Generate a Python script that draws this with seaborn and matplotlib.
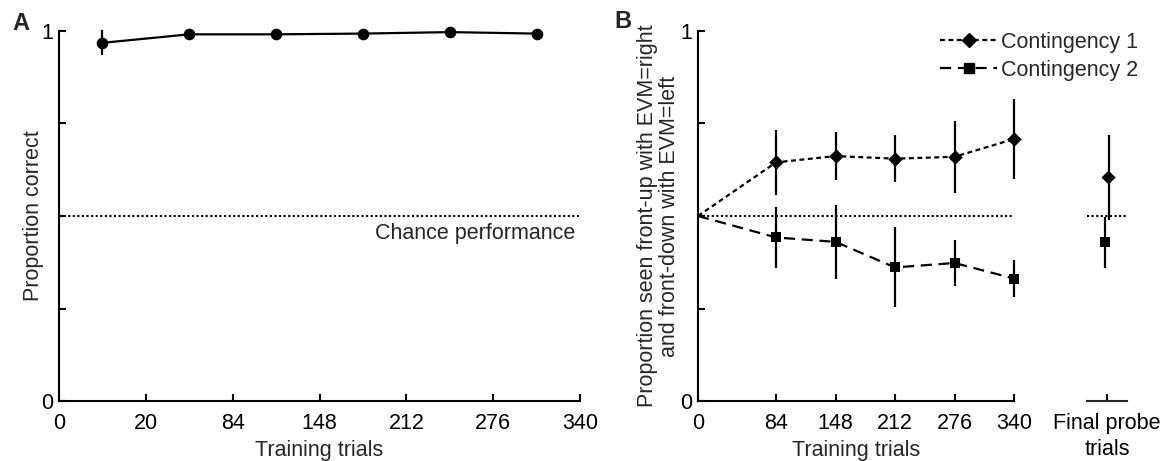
import numpy as np
import pandas as pd
import seaborn as sns
import matplotlib.pyplot as plt
from matplotlib.lines import Line2D

# Panel A: proportion correct per training block
block_edges = [0, 20, 84, 148, 212, 276, 340]
acc_mean = [0.968, 0.991, 0.991, 0.993, 0.997, 0.993]
acc_err = [0.034, 0.004, 0.004, 0.003, 0.002, 0.003]

# Panel B: proportion seen front-up with EVM=right ...
trials = [0, 84, 148, 212, 276, 340]
c1_mean = [0.5, 0.645, 0.662, 0.655, 0.660, 0.708]
c1_err = [0.0, 0.087, 0.065, 0.063, 0.098, 0.108]
c2_mean = [0.5, 0.442, 0.430, 0.361, 0.373, 0.331]
c2_err = [0.0, 0.083, 0.101, 0.108, 0.062, 0.051]

# final probe trials
probe_mean = [0.604, 0.429]
probe_err = [0.115, 0.069]

chance = 0.5

sns.set_style('ticks')
plt.rcParams['font.family'] = ['Liberation Sans', 'DejaVu Sans']
plt.rcParams['font.size'] = 15.5

W, H = 1165, 461
fig = plt.figure(figsize=(W / 100, H / 100), dpi=100)

def px_axes(left, right, top=31, bottom=401):
    return fig.add_axes([left / W, 1 - bottom / H, (right - left) / W, (bottom - top) / H])

axA = px_axes(59, 580)
axB = px_axes(698, 1014)
axF = px_axes(1087, 1127)

lw = 1.6
dot_style = (0, (1, 1.2))
c1_style = (0, (2.2, 1.6))
c2_style = (0, (5, 3))

def style_axis(ax):
    for s in ['top', 'right']:
        ax.spines[s].set_visible(False)
    for s in ['left', 'bottom']:
        ax.spines[s].set_linewidth(1.5)
        ax.spines[s].set_color('k')
    ax.tick_params(direction='in', length=5, width=1.5, colors='k', labelsize=15.5)
    ax.tick_params(axis='x', pad=8.5)
    ax.tick_params(axis='y', pad=4)
    ax.set_ylim(0, 1)
    ax.set_yticks([0, 0.25, 0.5, 0.75, 1])
    ax.set_yticklabels(['0', '', '', '', '1'])

def unclip(ax):
    for art in ax.collections + ax.lines:
        art.set_clip_on(False)

# ---- Panel A ----
style_axis(axA)
xA = np.arange(len(acc_mean)) + 0.5
dfA = pd.DataFrame({'x': xA, 'y': acc_mean})
axA.axhline(chance, xmin=0, xmax=1, color='k', lw=1.5, ls=dot_style, zorder=1)
sns.lineplot(data=dfA, x='x', y='y', ax=axA, color='k', lw=lw, legend=False)
axA.errorbar(xA, acc_mean, yerr=acc_err, fmt='none', ecolor='k', elinewidth=lw)
sns.scatterplot(data=dfA, x='x', y='y', ax=axA, color='k', marker='o', s=70,
                edgecolor='k', linewidth=0, zorder=5, legend=False)
unclip(axA)
axA.set_xlim(0, len(block_edges) - 1)
axA.set_xticks(np.arange(len(block_edges)))
axA.set_xticklabels([str(v) for v in block_edges])
axA.set_xlabel('Training trials')
axA.set_ylabel('Proportion correct')
axA.yaxis.set_label_coords(-0.029, 0.5)
axA.xaxis.set_label_coords(0.5, -0.106)
axA.text(0.99, 0.454, 'Chance performance', transform=axA.transAxes,
         ha='right', va='center', fontsize=15.5)

# ---- Panel B ----
style_axis(axB)
axB.axhline(chance, color='k', lw=1.5, ls=dot_style, zorder=1)
dfB = pd.DataFrame({'trials': trials * 2,
                    'y': c1_mean + c2_mean,
                    'err': c1_err + c2_err,
                    'group': ['Contingency 1'] * len(trials) + ['Contingency 2'] * len(trials)})
for name, ls, mk, ms in [('Contingency 1', c1_style, 'D', 55),
                         ('Contingency 2', c2_style, 's', 52)]:
    sub = dfB[dfB['group'] == name]
    sns.lineplot(data=sub, x='trials', y='y', ax=axB, color='k', lw=lw,
                 linestyle=ls, legend=False)
    pts = sub[sub['trials'] > 0]
    axB.errorbar(pts['trials'], pts['y'], yerr=pts['err'], fmt='none',
                 ecolor='k', elinewidth=lw)
    sns.scatterplot(data=pts, x='trials', y='y', ax=axB, color='k', marker=mk,
                    s=ms, edgecolor='k', linewidth=0, zorder=5, legend=False)
unclip(axB)
axB.set_xlim(0, 340)
axB.set_xticks(trials)
axB.set_xticklabels([str(t) for t in trials])
axB.set_xlabel('Training trials')
axB.set_ylabel('Proportion seen front-up with EVM=right\nand front-down with EVM=left',
               linespacing=1.05)
axB.yaxis.set_label_coords(-0.058, 0.5)
axB.xaxis.set_label_coords(0.5, -0.106)

handles = [Line2D([], [], color='k', lw=lw, ls=c1_style, marker='D', markersize=7),
           Line2D([], [], color='k', lw=lw, ls=c2_style, marker='s', markersize=6.5)]
fig.legend(handles, ['Contingency 1', 'Contingency 2'], loc='upper left',
           bbox_to_anchor=(940 / W, 1 - 32 / H), frameon=False, borderpad=0,
           borderaxespad=0, handlelength=2.65, handletextpad=0.2,
           labelspacing=0.32, fontsize=15.5)

# ---- Final probe ----
axF.spines['left'].set_visible(False)
axF.spines['top'].set_visible(False)
axF.spines['right'].set_visible(False)
axF.spines['bottom'].set_linewidth(1.5)
axF.tick_params(direction='in', length=5, width=1.5, colors='k', pad=8.5,
                labelsize=15.5, left=False, labelleft=False)
axF.set_ylim(0, 1)
axF.set_xlim(-1, 1)
axF.axhline(chance, color='k', lw=1.5, ls=dot_style, zorder=1)
dodge = [0.08, -0.08]
dfF = pd.DataFrame({'x': dodge, 'y': probe_mean, 'err': probe_err,
                    'group': ['Contingency 1', 'Contingency 2']})
axF.errorbar(dfF['x'], dfF['y'], yerr=dfF['err'], fmt='none', ecolor='k', elinewidth=lw)
sns.scatterplot(data=dfF, x='x', y='y', ax=axF, style='group',
                markers={'Contingency 1': 'D', 'Contingency 2': 's'},
                color='k', s=52, edgecolor='k', linewidth=0, zorder=5, legend=False)
axF.set_xticks([0])
axF.set_xticklabels(['Final probe\ntrials'], linespacing=1.3)
axF.set_xlabel('')
axF.set_ylabel('')

fig.text(21 / W, 1 - 23 / H, 'A', fontsize=17, fontweight='bold', ha='center', va='center')
fig.text(623 / W, 1 - 22 / H, 'B', fontsize=17, fontweight='bold', ha='center', va='center')

fig.savefig('out.png', dpi=100)
